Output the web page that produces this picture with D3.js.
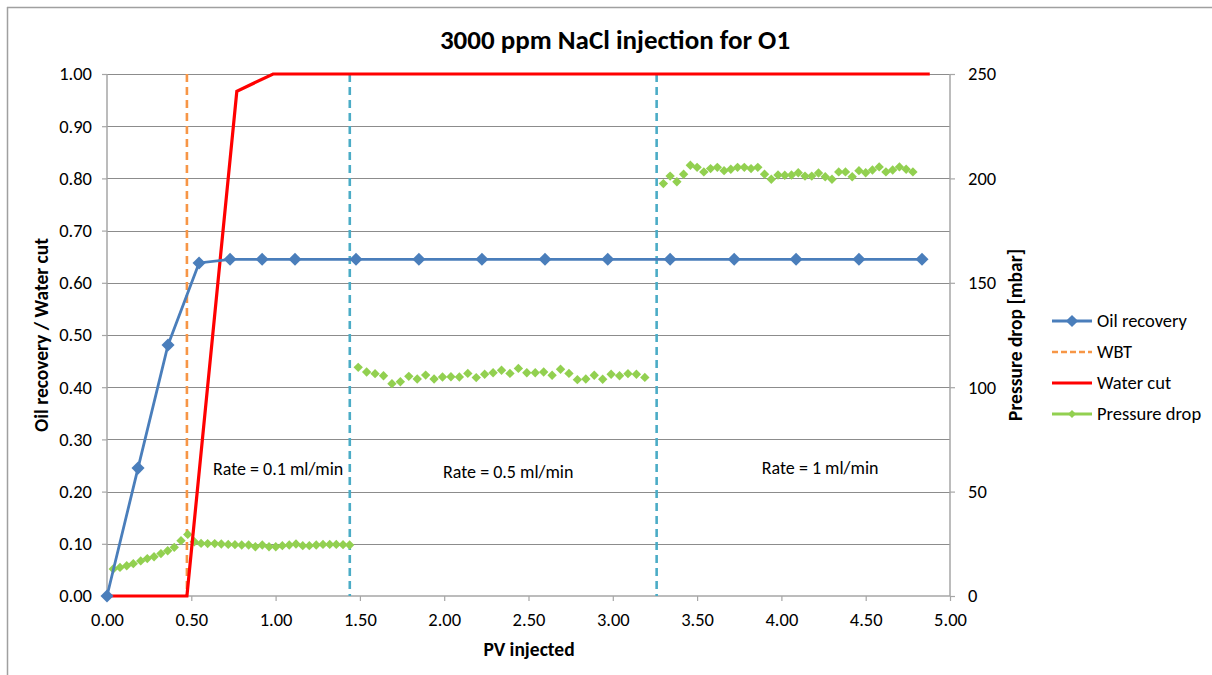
<!DOCTYPE html>
<html><head><meta charset="utf-8">
<script src="https://cdn.jsdelivr.net/npm/d3@7/dist/d3.min.js"></script>
<style>
html,body{margin:0;padding:0;background:#fff;}
text{font-family:Carlito,Lato,"Open Sans",sans-serif;fill:#000;}
</style></head><body>
<svg id="c" width="1212" height="675"></svg>
<script>
// ---- data ----
const oilPV = [0, 0.184, 0.362, 0.546, 0.73, 0.92, 1.115, 1.477, 1.85, 2.224, 2.598, 2.97, 3.34, 3.72, 4.087, 4.46, 4.834];
const oilRec = [0, 0.245, 0.481, 0.638, 0.645, 0.645, 0.645, 0.645, 0.645, 0.645, 0.645, 0.645, 0.645, 0.645, 0.645, 0.645, 0.645];
const wcPV = [0, 0.474, 0.77, 0.985, 4.88];
const wcVal = [0, 0, 0.967, 1.0, 1.0];
const wbtPV = 0.474;
const rateChangePV = [1.44, 3.26];
const dpPV1 = [0.037,0.077,0.117,0.156,0.200,0.239,0.279,0.320,0.360,0.399,0.439,0.479,0.518,0.558,0.597,0.639,0.678,0.719,0.759,0.799,0.840,0.880,0.921,0.961,1.001,1.040,1.081,1.121,1.161,1.200,1.241,1.281,1.321,1.360,1.400,1.439];
const dpVal1 = [12.9,13.7,14.5,15.5,16.8,17.9,18.8,20.3,21.7,23.3,26.5,29.5,26.0,25.2,25.1,25.1,24.9,24.7,24.6,24.4,24.4,23.6,24.4,23.6,23.6,24.1,24.4,24.9,24.1,24.1,24.4,24.7,24.7,24.7,24.6,24.4];
const dpPV2 = [1.49,1.54,1.59,1.64,1.69,1.74,1.79,1.84,1.89,1.94,1.99,2.04,2.09,2.14,2.19,2.24,2.29,2.34,2.39,2.44,2.49,2.54,2.59,2.64,2.69,2.74,2.79,2.84,2.89,2.94,2.99,3.04,3.09,3.14,3.19];
const dpVal2 = [109.5,107.3,106.5,105.5,101.7,102.6,105.2,103.9,105.8,103.9,104.9,105.0,104.9,106.6,104.6,106.2,106.9,108.1,106.6,109.0,106.9,106.9,107.3,105.7,108.6,106.6,103.6,103.9,105.7,103.8,106.2,105.5,106.5,106.2,104.7];
const dpPV3 = [3.30,3.34,3.38,3.42,3.46,3.50,3.54,3.58,3.62,3.66,3.70,3.74,3.78,3.82,3.86,3.90,3.94,3.98,4.02,4.06,4.10,4.14,4.18,4.22,4.26,4.30,4.34,4.38,4.42,4.46,4.50,4.54,4.58,4.62,4.66,4.70,4.74,4.78];
const dpVal3 = [197.5,201.1,198.4,202.0,206.3,205.3,203.1,204.7,205.3,203.7,204.4,205.3,205.3,204.7,205.3,202.0,199.6,201.6,201.5,201.6,202.7,201.1,201.1,202.6,200.8,199.6,203.1,203.1,200.8,203.7,202.7,204.0,205.5,203.1,204.0,205.5,204.4,203.1];
const xTicks = [0,0.5,1,1.5,2,2.5,3,3.5,4,4.5,5];
const yLeftTicks = [0,0.1,0.2,0.3,0.4,0.5,0.6,0.7,0.8,0.9,1.0];
const yRightTicks = [0,50,100,150,200,250];
const rateLabels = ["Rate = 0.1 ml/min","Rate = 0.5 ml/min","Rate = 1 ml/min"];
const rateLabelPV = [1.015, 2.38, 4.23];
const rateLabelY = [0.232, 0.227, 0.233];
const legendNames = ["Oil recovery","WBT","Water cut","Pressure drop"];

// ---- layout ----
const svg = d3.select("#c");
const L = 107, R = 950, T = 74, B = 596;
const x = d3.scaleLinear().domain([0,5]).range([L,R]);
const yL = d3.scaleLinear().domain([0,1]).range([B,T]);
const yR = d3.scaleLinear().domain([0,250]).range([B,T]);
const C = {oil:"#4a7ebb", wbt:"#f79646", wc:"#ff0000", dp:"#92d050", rate:"#4bacc6", grid:"#8c8c8c", axis:"#a6a6a6"};
const FS = 18.5;

// frame
svg.append("line").attr("x1",7).attr("x2",1212).attr("y1",7.5).attr("y2",7.5).attr("stroke","#a0a0a0").attr("stroke-width",1.5);
svg.append("line").attr("x1",7.5).attr("x2",7.5).attr("y1",7).attr("y2",675).attr("stroke","#a0a0a0").attr("stroke-width",1.5);

// gridlines
svg.append("g").selectAll("line").data(yLeftTicks.slice(1)).join("line")
  .attr("x1",L).attr("x2",R).attr("y1",d=>Math.round(yL(d))+0.5).attr("y2",d=>Math.round(yL(d))+0.5)
  .attr("stroke",C.grid).attr("stroke-width",1);

// axes
const fmt2 = d3.format(".2f");
const gx = svg.append("g").attr("transform",`translate(0,${B})`)
  .call(d3.axisBottom(x).tickValues(xTicks).tickFormat(fmt2).tickSize(5).tickPadding(12));
const gl = svg.append("g").attr("transform",`translate(${L},0)`)
  .call(d3.axisLeft(yL).tickValues(yLeftTicks).tickFormat(fmt2).tickSize(5).tickPadding(10));
const gr = svg.append("g").attr("transform",`translate(${R},0)`)
  .call(d3.axisRight(yR).tickValues(yRightTicks).tickFormat(d3.format("d")).tickSize(5).tickPadding(13));
[gx,gl,gr].forEach(g=>{
  g.attr("font-size",FS).attr("font-family",null);
  g.select(".domain").remove();
  g.selectAll(".tick line").attr("stroke",C.axis).attr("stroke-width",1.2);
  g.selectAll(".tick text").attr("fill","#000");
});
gl.append("line").attr("x1",0).attr("x2",0).attr("y1",T).attr("y2",B).attr("stroke",C.axis).attr("stroke-width",1.5);
gr.append("line").attr("x1",0).attr("x2",0).attr("y1",T).attr("y2",B).attr("stroke",C.axis).attr("stroke-width",1.5);
gx.append("line").attr("x1",L).attr("x2",R).attr("y1",0).attr("y2",0).attr("stroke",C.axis).attr("stroke-width",1.5);

// rate change lines
svg.append("g").selectAll("line").data(rateChangePV).join("line")
  .attr("x1",d=>x(d)).attr("x2",d=>x(d)).attr("y1",T).attr("y2",B)
  .attr("stroke",C.rate).attr("stroke-width",2.6).attr("stroke-dasharray","8,5");

// WBT
svg.append("line").attr("x1",x(wbtPV)).attr("x2",x(wbtPV)).attr("y1",T).attr("y2",B)
  .attr("stroke",C.wbt).attr("stroke-width",2.6).attr("stroke-dasharray","8,5");

// rate labels
svg.append("g").selectAll("text").data(rateLabels).join("text")
  .attr("x",(d,i)=>x(rateLabelPV[i])).attr("y",(d,i)=>yL(rateLabelY[i]))
  .attr("text-anchor","middle").attr("font-size",18).text(d=>d);

// pressure drop markers (rotated squares like Excel diamonds)
const sq = d3.symbol().type(d3.symbolSquare);
const dpAll = [[dpPV1,dpVal1],[dpPV2,dpVal2],[dpPV3,dpVal3]];
dpAll.forEach(([pv,val])=>{
  svg.append("g").selectAll("path").data(pv).join("path")
    .attr("d",sq.size(44)())
    .attr("transform",(d,i)=>`translate(${x(d)},${yR(val[i])}) rotate(45)`)
    .attr("fill",C.dp);
});

// water cut
svg.append("path").datum(wcPV.map((d,i)=>[d,wcVal[i]]))
  .attr("d",d3.line().x(d=>x(d[0])).y(d=>yL(d[1])))
  .attr("fill","none").attr("stroke",C.wc).attr("stroke-width",3.2);

// oil recovery
const oilData = oilPV.map((d,i)=>[d,oilRec[i]]);
svg.append("path").datum(oilData)
  .attr("d",d3.line().x(d=>x(d[0])).y(d=>yL(d[1])))
  .attr("fill","none").attr("stroke",C.oil).attr("stroke-width",2.8);
svg.append("g").selectAll("path").data(oilData).join("path")
  .attr("d",sq.size(85)())
  .attr("transform",d=>`translate(${x(d[0])},${yL(d[1])}) rotate(45)`)
  .attr("fill",C.oil);

// title & axis titles
svg.append("text").attr("x",615).attr("y",49).attr("text-anchor","middle")
  .attr("font-size",27).attr("font-weight","bold").text("3000 ppm NaCl injection for O1");
svg.append("text").attr("x",529).attr("y",656).attr("text-anchor","middle")
  .attr("font-size",19.5).attr("font-weight","bold").text("PV injected");
svg.append("text").attr("transform","translate(48,335) rotate(-90)").attr("text-anchor","middle")
  .attr("font-size",19.5).attr("font-weight","bold").text("Oil recovery / Water cut");
svg.append("text").attr("transform","translate(1022,335) rotate(-90)").attr("text-anchor","middle")
  .attr("font-size",19.5).attr("font-weight","bold").text("Pressure drop [mbar]");

// legend
const lg = svg.append("g").attr("transform","translate(1052,321)");
const rows = lg.selectAll("g").data(legendNames).join("g").attr("transform",(d,i)=>`translate(0,${i*31})`);
rows.append("line").attr("x1",0).attr("x2",40).attr("y1",0).attr("y2",0)
  .attr("stroke",(d,i)=>[C.oil,C.wbt,C.wc,C.dp][i])
  .attr("stroke-width",(d,i)=>[2.8,2.6,3.2,2.8][i])
  .attr("stroke-dasharray",(d,i)=>i===1?"6,3":null);
rows.filter((d,i)=>i===0||i===3).append("path")
  .attr("d",d=>sq.size(d==="Oil recovery"?75:32)())
  .attr("transform","translate(20,0) rotate(45)")
  .attr("fill",d=>d==="Oil recovery"?C.oil:C.dp);
rows.append("text").attr("x",45).attr("y",6).attr("font-size",FS).text(d=>d);
</script>
</body></html>
